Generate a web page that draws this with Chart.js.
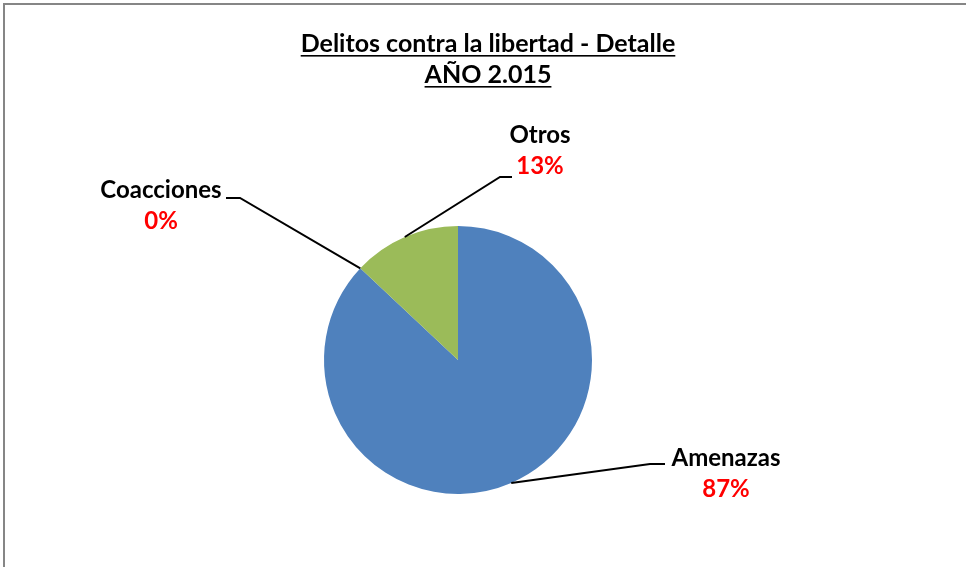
<!DOCTYPE html>
<html><head><meta charset="utf-8">
<script src="https://cdn.jsdelivr.net/npm/chart.js@4.4.0/dist/chart.umd.min.js"></script>
<style>html,body{margin:0;padding:0;background:#fff}#wrap{width:966px;height:567px;position:relative}</style>
</head><body><div id="wrap"><canvas id="c" width="966" height="567"></canvas></div>
<script>
const titleLines = ['Delitos contra la libertad - Detalle', 'AÑO 2.015'];
const categories = ['Amenazas', 'Coacciones', 'Otros'];
const values = [87, 0, 13];
const colors = ['#4F81BD', '#C0504D', '#9BBB59'];

// label layout (style): elbow point and text centre relative to pie centre
const labelLayout = [
  {elbow: [192, 104], end: [207, 104], text: [268, 98]},
  {elbow: [-218, -162], end: [-232, -162], text: [-297, -170]},
  {elbow: [42, -183], end: [54, -183], text: [82, -225]}
];
const FONT = 'Lato, "Open Sans", sans-serif';
const FS = 24;
const TFS = 25;

const decor = {
  id: 'decor',
  beforeDraw(chart) {
    const ctx = chart.ctx;
    ctx.save();
    ctx.fillStyle = '#fff';
    ctx.fillRect(0, 0, chart.width, chart.height);
    ctx.strokeStyle = '#868686';
    ctx.lineWidth = 2;
    ctx.beginPath();
    ctx.moveTo(4, chart.height + 5);
    ctx.lineTo(4, 4);
    ctx.lineTo(chart.width + 5, 4);
    ctx.stroke();
    ctx.restore();
  },
  afterDraw(chart) {
    const ctx = chart.ctx;
    ctx.save();
    // title
    ctx.fillStyle = '#000';
    ctx.font = 'bold ' + TFS + 'px ' + FONT;
    ctx.textAlign = 'center';
    ctx.textBaseline = 'alphabetic';
    const tx = 488;
    const ty = [52, 83];
    titleLines.forEach((t, i) => {
      ctx.fillText(t, tx, ty[i]);
      const w = ctx.measureText(t).width;
      ctx.fillRect(tx - w / 2, ty[i] + 3, w, 1.6);
    });
    // labels
    const meta = chart.getDatasetMeta(0);
    const total = values.reduce((a, b) => a + b, 0);
    meta.data.forEach((arc, i) => {
      const p = arc.getProps(['x', 'y', 'startAngle', 'endAngle', 'outerRadius'], true);
      const mid = (p.startAngle + p.endAngle) / 2;
      const sx = p.x + Math.cos(mid) * p.outerRadius;
      const sy = p.y + Math.sin(mid) * p.outerRadius;
      const L = labelLayout[i];
      ctx.strokeStyle = '#000';
      ctx.lineWidth = 2;
      ctx.beginPath();
      ctx.moveTo(sx, sy);
      ctx.lineTo(p.x + L.elbow[0], p.y + L.elbow[1]);
      ctx.lineTo(p.x + L.end[0], p.y + L.end[1]);
      ctx.stroke();
      const cx = p.x + L.text[0], cy = p.y + L.text[1];
      ctx.font = 'bold ' + FS + 'px ' + FONT;
      ctx.textAlign = 'center';
      ctx.textBaseline = 'middle';
      ctx.fillStyle = '#000';
      ctx.fillText(categories[i], cx, cy);
      ctx.fillStyle = '#FF0000';
      ctx.fillText(Math.round(values[i] / total * 100) + '%', cx, cy + 31);
    });
    ctx.restore();
  }
};

new Chart(document.getElementById('c'), {
  type: 'pie',
  data: {
    labels: categories,
    datasets: [{data: values, backgroundColor: colors, borderWidth: 0}]
  },
  options: {
    responsive: false,
    animation: false,
    layout: {padding: {top: 226, bottom: 73, left: 324, right: 374}},
    plugins: {legend: {display: false}, tooltip: {enabled: false}, title: {display: false}}
  },
  plugins: [decor]
});
</script></body></html>
